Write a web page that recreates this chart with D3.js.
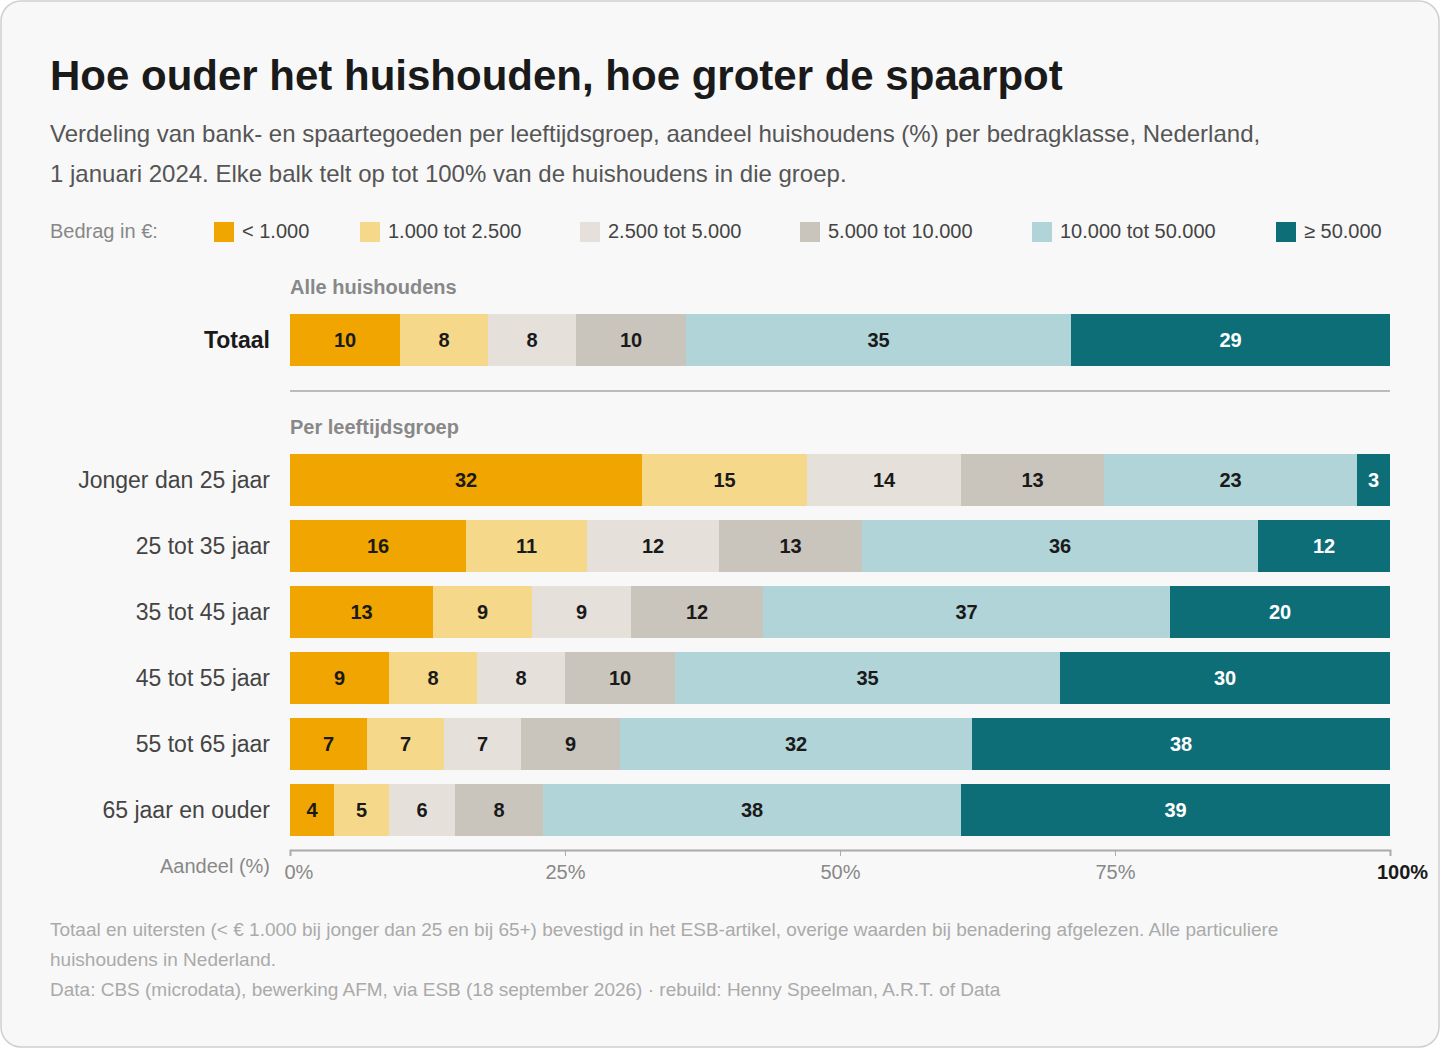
<!DOCTYPE html>
<html>
<head>
<meta charset="utf-8">
<script src="https://cdn.jsdelivr.net/npm/d3@7"></script>
<style>
	body { margin: 0; background: #fff; font-family: "Liberation Sans", Arial, sans-serif; }
</style>
</head>
<body>
<svg id="chart" width="1440" height="1048"></svg>
<script>
// data
var classes = ["< 1.000", "1.000 tot 2.500", "2.500 tot 5.000", "5.000 tot 10.000", "10.000 tot 50.000", "≥ 50.000"]
var colors = ["#f0a500", "#f5d88a", "#e5e1da", "#c9c4bc", "#b0d4d8", "#0e6e78"]
var totalLabel = "Totaal"
var totalValues = [10, 8, 8, 10, 35, 29]
var groups = ["Jonger dan 25 jaar", "25 tot 35 jaar", "35 tot 45 jaar", "45 tot 55 jaar", "55 tot 65 jaar", "65 jaar en ouder"]
var groupValues = [
	[32, 15, 14, 13, 23, 3],
	[16, 11, 12, 13, 36, 12],
	[13, 9, 9, 12, 37, 20],
	[9, 8, 8, 10, 35, 30],
	[7, 7, 7, 9, 32, 38],
	[4, 5, 6, 8, 38, 39]
]
var ticks = [0, 25, 50, 75, 100]

var svg = d3.select("#chart")
var left = 290, right = 1390, barH = 52

svg.append("rect").attr("x", 1).attr("y", 1).attr("width", 1438).attr("height", 1046)
	.attr("rx", 20).attr("fill", "#f8f8f8").attr("stroke", "#cfcfcf").attr("stroke-width", 1.5)

svg.append("text").attr("x", 50).attr("y", 90).attr("font-size", 42).attr("font-weight", "bold")
	.attr("fill", "#1a1a1a").text("Hoe ouder het huishouden, hoe groter de spaarpot")
var sub = ["Verdeling van bank- en spaartegoeden per leeftijdsgroep, aandeel huishoudens (%) per bedragklasse, Nederland,",
	"1 januari 2024. Elke balk telt op tot 100% van de huishoudens in die groep."]
sub.forEach(function(s, i) {
	svg.append("text").attr("x", 50).attr("y", 142 + i * 40).attr("font-size", 24).attr("fill", "#555").text(s)
})

// legend
svg.append("text").attr("x", 50).attr("y", 238).attr("font-size", 20).attr("fill", "#888").text("Bedrag in €:")
var legX = [214, 360, 580, 800, 1032, 1276]
classes.forEach(function(c, i) {
	svg.append("rect").attr("x", legX[i]).attr("y", 222).attr("width", 20).attr("height", 20).attr("fill", colors[i])
	svg.append("text").attr("x", legX[i] + 28).attr("y", 238).attr("font-size", 20).attr("fill", "#444").text(c)
})

var x = d3.scaleLinear().domain([0, 100]).range([left, right])

function drawBar(vals, label, y, bold) {
	var g = svg.append("g")
	var stack = d3.cumsum([0].concat(vals))
	vals.forEach(function(v, i) {
		g.append("rect").attr("x", x(stack[i])).attr("y", y)
			.attr("width", x(stack[i + 1]) - x(stack[i])).attr("height", barH).attr("fill", colors[i])
		g.append("text").attr("x", (x(stack[i]) + x(stack[i + 1])) / 2).attr("y", y + barH / 2 + 7)
			.attr("text-anchor", "middle").attr("font-size", 20).attr("font-weight", "bold")
			.attr("fill", i == 5 ? "#fff" : "#1a1a1a").text(v)
	})
	svg.append("text").attr("x", 270).attr("y", y + barH / 2 + 8).attr("text-anchor", "end")
		.attr("font-size", bold ? 23 : 23).attr("font-weight", bold ? "bold" : "normal")
		.attr("fill", bold ? "#1a1a1a" : "#444").text(label)
}

svg.append("text").attr("x", left).attr("y", 294).attr("font-size", 20).attr("font-weight", "bold")
	.attr("fill", "#888").text("Alle huishoudens")
drawBar(totalValues, totalLabel, 314, true)
svg.append("line").attr("x1", left).attr("x2", right).attr("y1", 391).attr("y2", 391)
	.attr("stroke", "#bbb").attr("stroke-width", 2)
svg.append("text").attr("x", left).attr("y", 434).attr("font-size", 20).attr("font-weight", "bold")
	.attr("fill", "#888").text("Per leeftijdsgroep")

var y = d3.scaleBand().domain(groups).range([454, 454 + 66 * groups.length]).paddingInner(14 / 66).paddingOuter(0)
groups.forEach(function(gname, i) {
	drawBar(groupValues[i], gname, 454 + i * 66, false)
})

// axis
var axis = svg.append("g").attr("transform", "translate(0,850)")
	.call(d3.axisBottom(x).tickValues(ticks).tickSize(6).tickFormat(function(d) { return d + "%" }))
axis.select(".domain").attr("stroke", "#aaa").attr("stroke-width", 2)
axis.selectAll(".tick line").attr("stroke", "#aaa")
axis.selectAll(".tick text").attr("font-size", 20).attr("fill", "#888").attr("dy", "1em")
	.attr("font-family", "Liberation Sans, Arial, sans-serif")
	.attr("text-anchor", function(d) { return d == 0 ? "start" : (d == 100 ? "middle" : "middle") })
	.attr("dx", function(d) { return d == 0 ? -6 : (d == 100 ? 0 : 0) })
axis.selectAll(".tick text").filter(function(d) { return d == 100 })
	.attr("font-weight", "bold").attr("fill", "#1a1a1a").attr("dx", 12)
svg.append("text").attr("x", 270).attr("y", 873).attr("text-anchor", "end").attr("font-size", 20)
	.attr("fill", "#888").text("Aandeel (%)")

var foot = ["Totaal en uitersten (< € 1.000 bij jonger dan 25 en bij 65+) bevestigd in het ESB-artikel, overige waarden bij benadering afgelezen. Alle particuliere",
	"huishoudens in Nederland.",
	"Data: CBS (microdata), bewerking AFM, via ESB (18 september 2026) · rebuild: Henny Speelman, A.R.T. of Data"]
foot.forEach(function(s, i) {
	svg.append("text").attr("x", 50).attr("y", 936 + i * 30).attr("font-size", 19).attr("fill", "#aaa").text(s)
})
</script>
</body>
</html>
